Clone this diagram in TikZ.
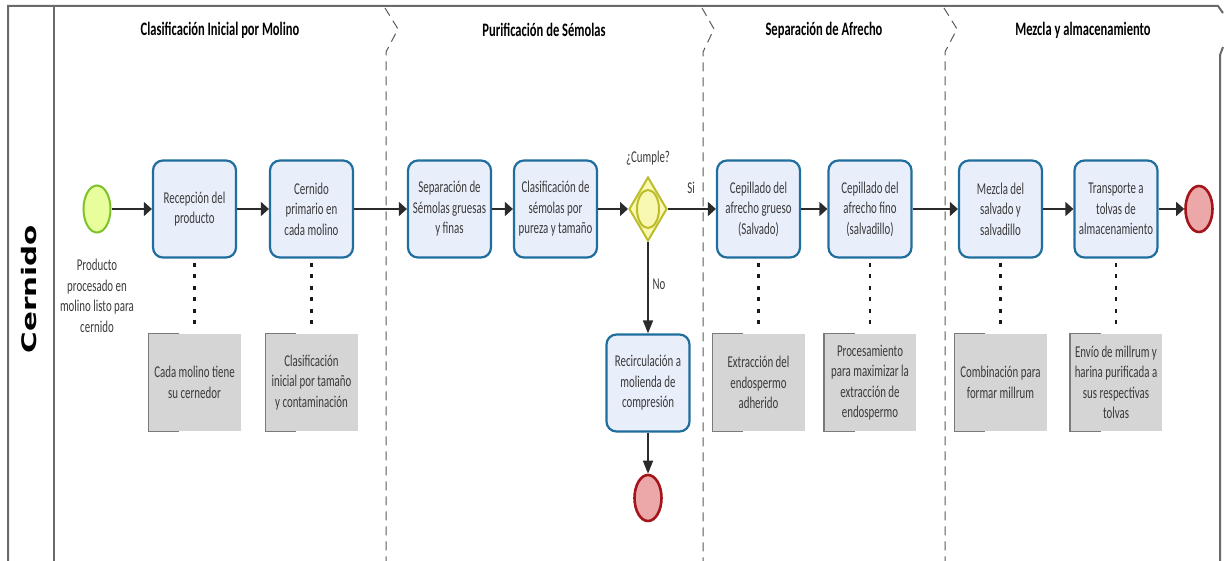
\documentclass[tikz,border=0pt]{standalone}
\usepackage{fontspec}
\setmainfont{Carlito}
\newfontfamily\bodyfont{Carlito}[FakeStretch=0.66]
\newfontfamily\lanefont{DejaVu Sans}
\usetikzlibrary{arrows.meta,shapes.geometric}

\definecolor{taskborder}{HTML}{1F6E9E}
\definecolor{taskfill}{HTML}{E9EEFB}
\definecolor{startborder}{HTML}{7CC22A}
\definecolor{startfill}{HTML}{E8FD9C}
\definecolor{endborder}{HTML}{A3141B}
\definecolor{endfill}{HTML}{ECA8A9}
\definecolor{gateborder}{HTML}{BDBD2C}
\definecolor{gatefill}{HTML}{F8F8B2}
\definecolor{notefill}{HTML}{D5D5D5}
\definecolor{noteedge}{HTML}{7A7A7A}
\definecolor{framegray}{HTML}{6A6A6A}
\definecolor{flowgray}{HTML}{2B2B2B}
\definecolor{txt}{HTML}{3A3A3A}

\tikzset{
  body/.style={font=\bodyfont\fontsize{16.5}{20.5}\selectfont, text=txt},
  task/.style={body, draw=taskborder, line width=2.2pt, fill=taskfill,
    rounded corners=10pt, minimum width=83pt, minimum height=97pt,
    align=center, inner sep=0pt},
  note/.style={body, fill=notefill, minimum width=92pt, minimum height=97pt,
    align=center, inner sep=0pt},
  bracket/.style={draw=noteedge, line width=1.4pt},
  startev/.style={ellipse, draw=startborder, line width=2pt, fill=startfill,
    minimum width=27pt, minimum height=47pt, inner sep=0pt},
  endev/.style={ellipse, draw=endborder, line width=2.6pt, fill=endfill,
    minimum width=27pt, minimum height=46pt, inner sep=0pt},
  gateway/.style={diamond, draw=gateborder, line width=2pt, fill=gatefill,
    minimum width=38pt, minimum height=64pt, inner sep=0pt},
  gatering/.style={ellipse, draw=gateborder, line width=2pt,
    minimum width=22pt, minimum height=38pt, inner sep=0pt},
  flowh/.style={draw=flowgray, line width=1.6pt, -{Triangle[length=8pt,width=14pt]}},
  flowv/.style={draw=flowgray, line width=1.6pt, -{Triangle[length=13pt,width=10pt]}},
  assoc/.style={draw=black!90, line width=2.5pt, dash pattern=on 4pt off 7.5pt},
  border/.style={draw=framegray, line width=2pt},
  phase/.style={draw=black!65, line width=1pt, dash pattern=on 9pt off 6pt},
  phasetitle/.style={font=\bodyfont\bfseries\fontsize{19}{22}\selectfont, text=black},
}

\begin{document}
\begin{tikzpicture}[x=1pt,y=-1pt]
\useasboundingbox (0,0) rectangle (1224,561);

% pool frame and lane header
\draw[border] (8,561) -- (8,6) -- (1218,6) -- (1223,13);
\draw[border] (1223,47) -- (1220,55) -- (1220,561);
\draw[border] (54,6) -- (54,561);
\node[rotate=90] (lane) at (29,289)
  {\scalebox{1.47}[1]{\lanefont\bfseries\fontsize{20}{22}\selectfont Cernido}};

% phase separators
\draw[phase] (385,8) -- (398,29) -- (386,52) -- (386,561);
\draw[phase] (702,8) -- (714,29) -- (703,52) -- (703,561);
\draw[phase] (944,8) -- (957,29) -- (945,52) -- (945,561);

% phase titles
\node[phasetitle] (ph1) at (220,30) {Clasificación Inicial por Molino};
\node[phasetitle] (ph2) at (544,30) {Purificación de Sémolas};
\node[phasetitle] (ph3) at (824,30) {Separación de Afrecho};
\node[phasetitle] (ph4) at (1083,30) {Mezcla y almacenamiento};

% events
\node[startev] (start) at (97,209) {};
\node[body, align=center] (startlbl) at (97,296)
  {Producto\\procesado en\\molino listo para\\cernido};
\node[endev] (end1) at (1199,209) {};
\node[endev] (end2) at (648,498) {};

% tasks
\node[task] (t1) at (194.5,209) {Recepción del\\producto};
\node[task] (t2) at (311.5,209) {Cernido\\primario en\\cada molino};
\node[task] (t3) at (449.5,209) {Separación de\\Sémolas gruesas\\y finas};
\node[task] (t4) at (555.5,209) {Clasificación de\\sémolas por\\pureza y tamaño};
\node[task] (t5) at (758.5,209) {Cepillado del\\afrecho grueso\\(Salvado)};
\node[task] (t6) at (870,209) {Cepillado del\\afrecho fino\\(salvadillo)};
\node[task] (t7) at (1000.5,209) {Mezcla del\\salvado y\\salvadillo};
\node[task] (t8) at (1116,209) {Transporte a\\tolvas de\\almacenamiento};
\node[task] (rec) at (648,383) {Recirculación a\\molienda de\\compresión};

% gateway
\node[gateway] (gw) at (648,209) {};
\node[gatering] (gwring) at (gw) {};
\node[body] (gwlbl) at (648,158) {¿Cumple?};

% annotations
\node[note] (n1) at (194.5,382.5) {Cada molino tiene\\su cernedor};
\node[note] (n2) at (311.5,382.5) {Clasificación\\inicial por tamaño\\y contaminación};
\node[note] (n3) at (758.5,382.5) {Extracción del\\endospermo\\adherido};
\node[note] (n4) at (870,382.5) {Procesamiento\\para maximizar la\\extracción de\\endospermo};
\node[note] (n5) at (1000.5,382.5) {Combinación para\\formar millrum};
\node[note] (n6) at (1116,382.5) {Envío de millrum y\\harina purificada a\\sus respectivas\\tolvas};
\foreach \n in {n1,n2,n3,n4,n5,n6}{
  \draw[bracket] ([xshift=31pt]\n.north west) -- (\n.north west)
    -- (\n.south west) -- ([xshift=31pt]\n.south west);
}

% associations
\draw[assoc] ([yshift=-4pt]t1.south) -- ([yshift=4pt]n1.north);
\draw[assoc] ([yshift=-4pt]t2.south) -- ([yshift=4pt]n2.north);
\draw[assoc] ([yshift=-4pt]t5.south) -- ([yshift=4pt]n3.north);
\draw[assoc] ([yshift=-4pt]t6.south) -- ([yshift=4pt]n4.north);
\draw[assoc] ([yshift=-4pt]t7.south) -- ([yshift=4pt]n5.north);
\draw[assoc] ([yshift=-4pt]t8.south) -- ([yshift=4pt]n6.north);

% sequence flows
\draw[flowh] (start) -- (t1);
\draw[flowh] (t1) -- (t2);
\draw[flowh] (t2) -- (t3);
\draw[flowh] (t3) -- (t4);
\draw[flowh] (t4) -- (gw);
\draw[flowh] (gw) -- (t5);
\node[body] (si) at (691,188) {Si};
\draw[flowh] (t5) -- (t6);
\draw[flowh] (t6) -- (t7);
\draw[flowh] (t7) -- (t8);
\draw[flowh] (t8) -- (end1);
\draw[flowv] (gw) -- (rec);
\node[body, anchor=west] (no) at (649,284) {No};
\draw[flowv] (rec) -- (end2);
\end{tikzpicture}
\end{document}
